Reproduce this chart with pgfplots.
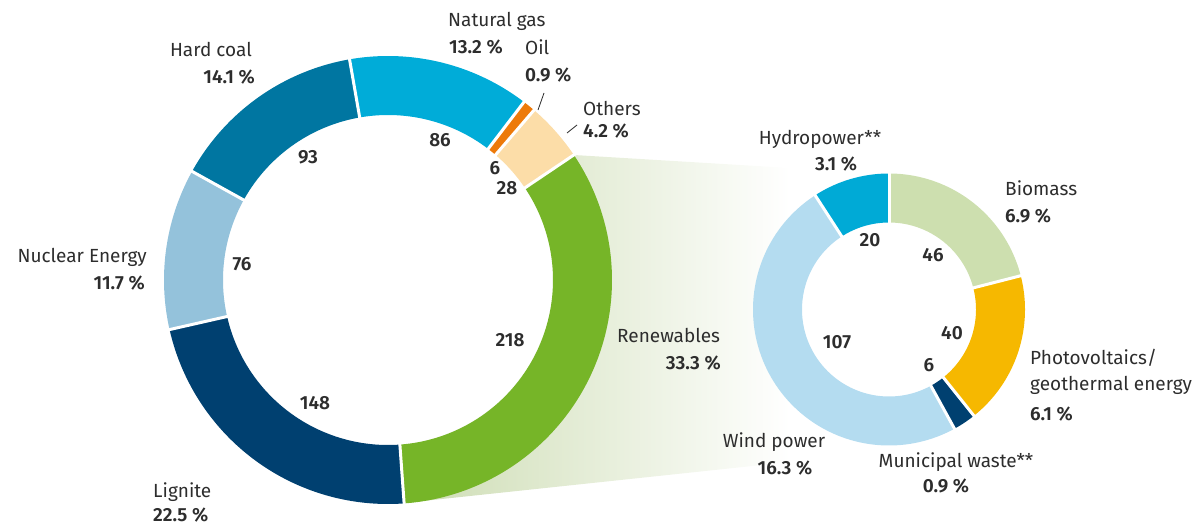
\documentclass[border=0pt]{standalone}
\usepackage{pgfplots}
\pgfplotsset{compat=1.18}
\usepackage{fontspec}
\setmainfont{Fira Sans}[BoldFont={* SemiBold}]
\definecolor{hardcoal}{RGB}{0,118,161}
\definecolor{natgas}{RGB}{0,172,216}
\definecolor{oil}{RGB}{237,122,10}
\definecolor{others}{RGB}{252,221,168}
\definecolor{renew}{RGB}{118,181,40}
\definecolor{lignite}{RGB}{0,64,112}
\definecolor{nuclear}{RGB}{148,194,219}
\definecolor{hydro}{RGB}{0,170,214}
\definecolor{biomass}{RGB}{205,223,175}
\definecolor{pv}{RGB}{246,184,0}
\definecolor{waste}{RGB}{0,64,112}
\definecolor{wind}{RGB}{180,220,240}
\definecolor{txt}{RGB}{45,45,45}
\definecolor{gradL}{RGB}{203,219,176}
\tikzset{lbl/.style={inner sep=0pt, text=txt, font=\fontsize{19bp}{23bp}\selectfont},
  val/.style={inner sep=0pt, text=txt, font=\fontsize{19bp}{23bp}\selectfont\bfseries}}
% ring segment: cx, cy, mid radius, width, start angle, end angle, colour
\newcommand{\seg}[7]{\addplot[draw=#7, line width=#4bp, domain=#6:#5, samples=90, no markers] ({#1+#3*cos(x)},{#2-#3*sin(x)});}
% white separator: cx, cy, r1, r2, angle
\newcommand{\sep}[5]{\addplot[white, line width=3bp, domain=#3:#4, samples=2, no markers] ({#1+x*cos(#5)},{#2-x*sin(#5)});}
\begin{document}
\begin{tikzpicture}
% main chart (TWh): Hard coal 93, Natural gas 86, Oil 6, Others 28, Renewables 218, Lignite 148, Nuclear 76
\pgfmathsetmacro\La{151}
\pgfmathsetmacro\Lb{\La-93/655*360}
\pgfmathsetmacro\Lc{\Lb-86/655*360}
\pgfmathsetmacro\Ld{\Lc-6/655*360}
\pgfmathsetmacro\Le{\Ld-28/655*360}
\pgfmathsetmacro\Lf{\Le-218/655*360}
\pgfmathsetmacro\Lg{\Lf-148/655*360}
\pgfmathsetmacro\Lh{\Lg-76/655*360}
% renewables (TWh): Biomass 46, PV/geothermal 40, Municipal waste 6, Wind 107, Hydro 20
\pgfmathsetmacro\Sa{90}
\pgfmathsetmacro\Sb{\Sa-46/219*360}
\pgfmathsetmacro\Sc{\Sb-40/219*360}
\pgfmathsetmacro\Sd{\Sc-6/219*360}
\pgfmathsetmacro\Se{\Sd-107/219*360}
\pgfmathsetmacro\Sf{\Se-20/219*360}
\begin{axis}[width=1204bp, height=526bp, scale only axis,
  xmin=0, xmax=1204, ymin=0, ymax=526, y dir=reverse,
  hide axis, clip=false]
\addplot[draw=none, no markers] coordinates {(0,0) (1204,526)};
% connector
\addplot[draw=none, left color=gradL, right color=white] coordinates {(388,280) (574,155) (790,168) (790,462) (404,503)} -- cycle;
\addplot[fill=white, draw=none, domain=0:360, samples=120] ({388+165.5*cos(x)},{280-165.5*sin(x)}) -- cycle;
% left ring
\seg{388}{280}{194.5}{59}{\La}{\Lb}{hardcoal}
\seg{388}{280}{194.5}{59}{\Lb}{\Lc}{natgas}
\seg{388}{280}{194.5}{59}{\Lc}{\Ld}{oil}
\seg{388}{280}{194.5}{59}{\Ld}{\Le}{others}
\seg{388}{280}{194.5}{59}{\Le}{\Lf}{renew}
\seg{388}{280}{194.5}{59}{\Lf}{\Lg}{lignite}
\seg{388}{280}{194.5}{59}{\Lg}{\Lh}{nuclear}
\sep{388}{280}{163}{226}{\La}
\sep{388}{280}{163}{226}{\Lb}
\sep{388}{280}{163}{226}{\Lc}
\sep{388}{280}{163}{226}{\Ld}
\sep{388}{280}{163}{226}{\Le}
\sep{388}{280}{163}{226}{\Lf}
\sep{388}{280}{163}{226}{\Lg}
% right ring
\seg{889}{309.5}{111.5}{49}{\Sa}{\Sb}{biomass}
\seg{889}{309.5}{111.5}{49}{\Sb}{\Sc}{pv}
\seg{889}{309.5}{111.5}{49}{\Sc}{\Sd}{waste}
\seg{889}{309.5}{111.5}{49}{\Sd}{\Se}{wind}
\seg{889}{309.5}{111.5}{49}{\Se}{\Sf}{hydro}
\sep{889}{309.5}{85}{138}{\Sa}
\sep{889}{309.5}{85}{138}{\Sb}
\sep{889}{309.5}{85}{138}{\Sc}
\sep{889}{309.5}{85}{138}{\Sd}
\sep{889}{309.5}{85}{138}{\Se}
% leader lines
\addplot[txt, line width=0.8bp, no markers] coordinates {(538,110) (544,93)};
\addplot[txt, line width=0.8bp, no markers] coordinates {(567,133) (577,125)};
% outer labels, left chart
\node[lbl, anchor=base west] at (axis cs:448,27) {Natural gas};
\node[val, anchor=base west] at (axis cs:449,54) {13.2 \%};
\node[lbl, anchor=base west] at (axis cs:525,55) {Oil};
\node[val, anchor=base west] at (axis cs:525,82) {0.9 \%};
\node[lbl, anchor=base west] at (axis cs:583,115) {Others};
\node[val, anchor=base west] at (axis cs:583,137) {4.2 \%};
\node[lbl, anchor=base east] at (axis cs:252,57) {Hard coal};
\node[val, anchor=base east] at (axis cs:255,84) {14.1 \%};
\node[lbl, anchor=base east] at (axis cs:147,262) {Nuclear Energy};
\node[val, anchor=base east] at (axis cs:145,289) {11.7 \%};
\node[lbl, anchor=base west] at (axis cs:153,497) {Lignite};
\node[val, anchor=base west] at (axis cs:153,521) {22.5 \%};
\node[lbl, anchor=base west] at (axis cs:617,342) {Renewables};
\node[val, anchor=base east] at (axis cs:721,369) {33.3 \%};
% values, left chart
\node[val] at (axis cs:308,157) {93};
\node[val] at (axis cs:440,140) {86};
\node[val] at (axis cs:495,168) {6};
\node[val] at (axis cs:507,188) {28};
\node[val] at (axis cs:510,340) {218};
\node[val] at (axis cs:315,403) {148};
\node[val] at (axis cs:242,264) {76};
% outer labels, right chart
\node[lbl, anchor=base] at (axis cs:820,144) {Hydropower**};
\node[val, anchor=base] at (axis cs:836,170) {3.1 \%};
\node[lbl, anchor=base west] at (axis cs:1005,195) {Biomass};
\node[val, anchor=base west] at (axis cs:1005,222) {6.9 \%};
\node[lbl, anchor=base west] at (axis cs:1030,364) {Photovoltaics/};
\node[lbl, anchor=base west] at (axis cs:1030,390) {geothermal energy};
\node[val, anchor=base west] at (axis cs:1030,420) {6.1 \%};
\node[lbl, anchor=base] at (axis cs:774,447) {Wind power};
\node[val, anchor=base] at (axis cs:785,474) {16.3 \%};
\node[lbl, anchor=base] at (axis cs:956,467) {Municipal waste**};
\node[val, anchor=base] at (axis cs:946,492) {0.9 \%};
% values, right chart
\node[val] at (axis cs:870,240) {20};
\node[val] at (axis cs:933,255) {46};
\node[val] at (axis cs:837,342) {107};
\node[val] at (axis cs:952,333) {40};
\node[val] at (axis cs:929,365) {6};
\end{axis}
\end{tikzpicture}
\end{document}
